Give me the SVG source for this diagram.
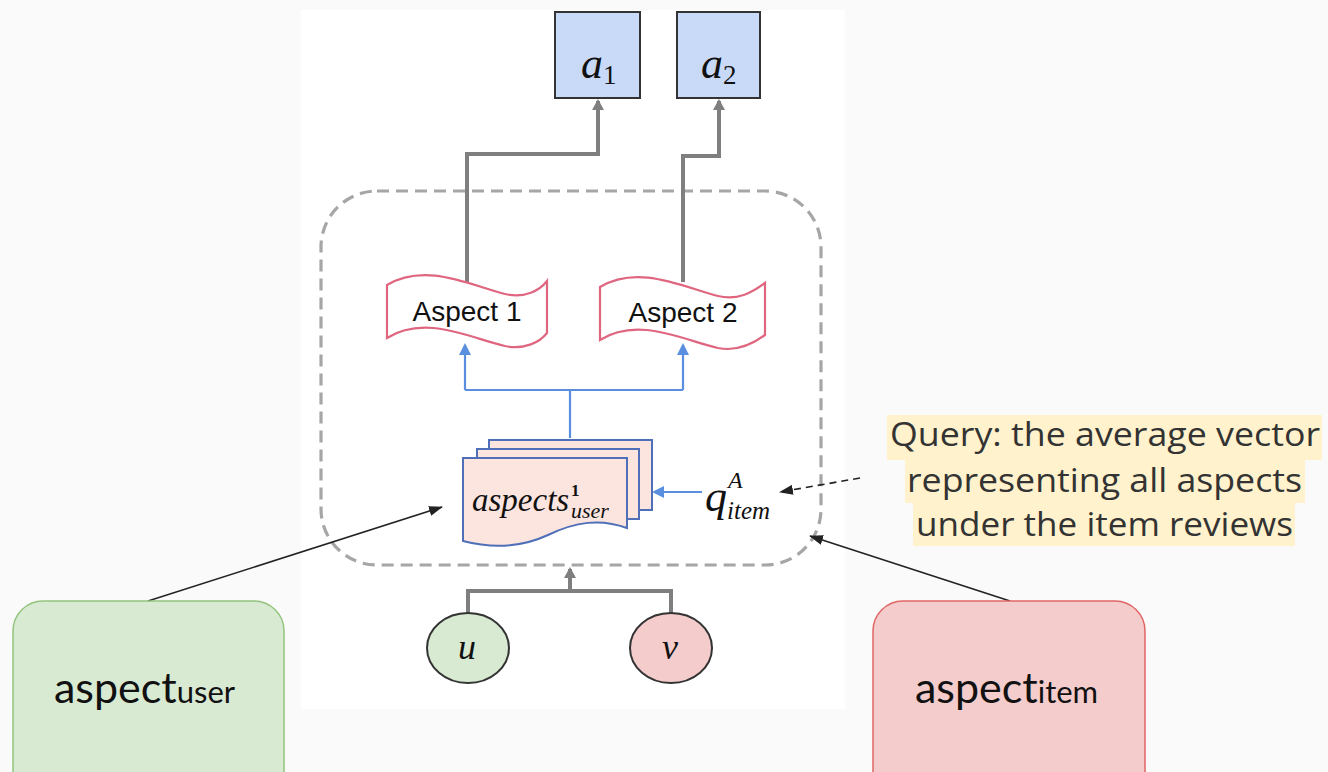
<svg xmlns="http://www.w3.org/2000/svg" width="1328" height="772" viewBox="0 0 1328 772">
<style>
.math{font-family:"Liberation Serif","DejaVu Serif",serif;font-style:italic;fill:#111}
.up{font-style:normal}
.lbl{font-family:"Liberation Sans",Arial,sans-serif;font-size:28px;fill:#111}
.big{font-family:Lato,"Open Sans",sans-serif;fill:#111}
.q{font-family:"Open Sans",Lato,sans-serif;font-size:33px;fill:#333}
.gray{stroke:#7f7f7f;stroke-width:4;fill:none}
.blue{stroke:#5a8fe0;stroke-width:2.2;fill:none}
.thin{stroke:#222;stroke-width:1.6;fill:none}
</style>
<defs>
<marker id="ag" markerWidth="12" markerHeight="12" refX="9" refY="6" orient="auto" markerUnits="userSpaceOnUse"><path d="M0,0 L11,6 L0,12 Z" fill="#7f7f7f"/></marker>
<marker id="ab" markerWidth="12" markerHeight="12" refX="10" refY="6" orient="auto" markerUnits="userSpaceOnUse"><path d="M0,0 L12,6 L0,12 Z" fill="#5a8fe0"/></marker>
<marker id="ak" markerWidth="14" markerHeight="10" refX="13" refY="5" orient="auto" markerUnits="userSpaceOnUse"><path d="M0,0 L14,5 L0,10 Z" fill="#222"/></marker>
</defs>
<rect x="0" y="0" width="1328" height="772" fill="#fafafa"/>
<rect x="301" y="10" width="544" height="699" fill="#ffffff"/>

<g id="group-box">
<rect x="321" y="191" width="500" height="374" rx="56" fill="none" stroke="#a6a6a6" stroke-width="3.2" stroke-dasharray="12 7"/>
</g>

<g id="connectors">
<path class="gray" d="M467,282 V154 H598 V101" marker-end="url(#ag)"/>
<path class="gray" d="M683,282 V156 H719 V101" marker-end="url(#ag)"/>
<path class="gray" d="M468,613 V591 H671 V613"/>
<path class="gray" d="M570,591 V569" marker-end="url(#ag)"/>
<path class="blue" d="M570,438 V390"/>
<path class="blue" d="M465,390 H683"/>
<path class="blue" d="M465,390 V345" marker-end="url(#ab)"/>
<path class="blue" d="M683,390 V345" marker-end="url(#ab)"/>
<path class="blue" d="M702,492 H654" marker-end="url(#ab)"/>
<path class="thin" d="M860,478 L780,492" stroke-dasharray="7 5" marker-end="url(#ak)"/>
<path class="thin" d="M148,601 L442,507" marker-end="url(#ak)"/>
<path class="thin" d="M1010,601 L810,536" marker-end="url(#ak)"/>
</g>

<g id="a1">
<rect x="555" y="12" width="85" height="86" fill="#c9daf8" stroke="#333" stroke-width="2"/>
<text class="math" x="581" y="78" font-size="44">a<tspan class="up" font-size="27" dy="6">1</tspan></text>
</g>
<g id="a2">
<rect x="677" y="12" width="83" height="86" fill="#c9daf8" stroke="#333" stroke-width="2"/>
<text class="math" x="701" y="78" font-size="44">a<tspan class="up" font-size="27" dy="6">2</tspan></text>
</g>

<g id="aspect1">
<path d="M387,285 C425,262 470,285 505,294 C525,299 540,290 547,281 V333 C540,342 525,350 505,346 C470,338 425,314 387,338 Z" fill="#fff" stroke="#e06680" stroke-width="2.2"/>
<text class="lbl" x="467" y="321" text-anchor="middle">Aspect 1</text>
</g>
<g id="aspect2">
<path d="M600,287 C638,264 683,287 718,296 C738,301 753,292 765,283 V335 C753,344 738,352 718,348 C683,340 638,316 600,340 Z" fill="#fff" stroke="#e06680" stroke-width="2.2"/>
<text class="lbl" x="683" y="322" text-anchor="middle">Aspect 2</text>
</g>

<g id="aspects-user">
<path d="M489,440 H652 V510 H489 Z" fill="#fce5df" stroke="#4f6fb8" stroke-width="2"/>
<path d="M477,449 H639 V519 H477 Z" fill="#fce5df" stroke="#4f6fb8" stroke-width="2"/>
<path d="M463,458 H627 V528 C600,518 575,522 548,535 C520,548 490,548 463,541 Z" fill="#fce5df" stroke="#4f6fb8" stroke-width="2"/>
<text class="math" x="472" y="511" font-size="33">aspects</text>
<text class="math up" x="571" y="496" font-size="17" font-weight="bold">1</text>
<text class="math" x="571" y="518" font-size="22">user</text>
</g>

<g id="q-item">
<text class="math" x="705" y="511" font-size="44">q</text>
<text class="math" x="728" y="488" font-size="24">A</text>
<text class="math" x="727" y="519" font-size="25">item</text>
</g>

<g id="query-note">
<rect x="887" y="415" width="435" height="45" fill="#fff2cc"/>
<rect x="905" y="460" width="400" height="43" fill="#fff2cc"/>
<rect x="913" y="503" width="382" height="43" fill="#fff2cc"/>
<text class="q" x="890" y="446" textLength="430" lengthAdjust="spacingAndGlyphs">Query: the average vector</text>
<text class="q" x="907" y="492" textLength="395" lengthAdjust="spacingAndGlyphs">representing all aspects</text>
<text class="q" x="916" y="536" textLength="377" lengthAdjust="spacingAndGlyphs">under the item reviews</text>
</g>

<g id="u">
<ellipse cx="468" cy="648" rx="41" ry="35" fill="#d9ead3" stroke="#333" stroke-width="2"/>
<text class="math" x="467" y="659" font-size="36" text-anchor="middle">u</text>
</g>
<g id="v">
<ellipse cx="671" cy="648" rx="41" ry="35" fill="#f4cccc" stroke="#333" stroke-width="2"/>
<text class="math" x="670" y="659" font-size="36" text-anchor="middle">v</text>
</g>

<g id="aspect-user-box">
<rect x="13" y="601" width="271" height="200" rx="30" fill="#d9ead3" stroke="#93c47d" stroke-width="1.5"/>
<text class="big" x="54" y="703" font-size="43">aspect<tspan font-size="31">user</tspan></text>
</g>
<g id="aspect-item-box">
<rect x="873" y="601" width="272" height="200" rx="30" fill="#f4cccc" stroke="#e06666" stroke-width="1.5"/>
<text class="big" x="915" y="703" font-size="43">aspect<tspan font-size="31">item</tspan></text>
</g>
</svg>
